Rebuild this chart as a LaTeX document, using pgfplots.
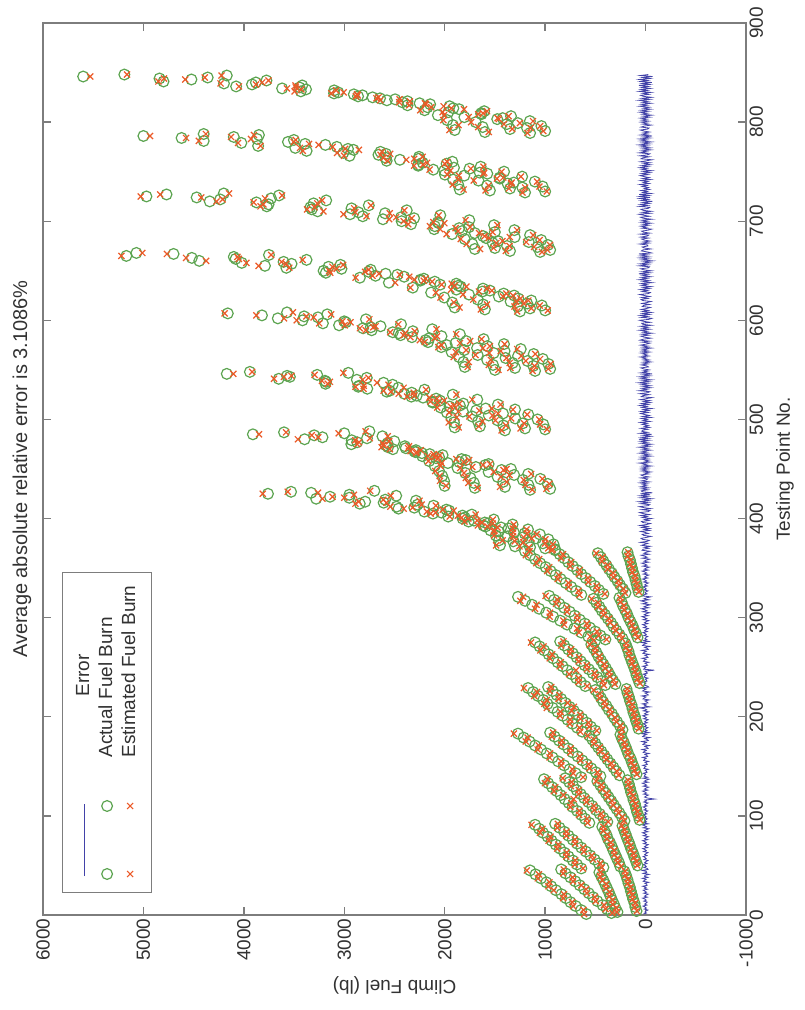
\documentclass[border=0pt]{standalone}
\usepackage{fontspec}
\setmainfont{Liberation Sans}
\usepackage{pgfplots}
\pgfplotsset{compat=1.18}
\usepackage{pgfplotstable}

\definecolor{actgreen}{RGB}{92,164,80}
\definecolor{estred}{RGB}{236,90,40}
\definecolor{errblue}{RGB}{66,66,168}
\definecolor{framegray}{RGB}{125,125,125}
\definecolor{labelgray}{RGB}{50,50,50}

% legend samples: a long line, and a marker at both ends of the sample
\pgfplotsset{
  long line legend/.style={legend image code/.code={\draw[##1] (0pt,0pt) -- (72pt,0pt);}},
  two marks legend/.style={legend image code/.code={\draw[##1] plot coordinates {(2pt,0pt) (70pt,0pt)};}},
}

% testing point, actual climb fuel, estimated climb fuel, error (lb)
\pgfplotstableread{
n act est err
1 590 612 22
2 340 331 -9
3 280 287 7
4 90 86 -4
5 642 618 -24
6 385 398 13
7 300 292 -8
8 102 107 5
9 695 721 26
10 428 414 -14
11 316 325 9
12 110 104 -6
13 748 731 -17
14 480 497 17
15 334 328 -6
16 124 130 6
17 792 821 29
18 522 505 -17
19 350 361 11
20 135 131 -4
21 838 812 -26
22 566 584 18
23 366 357 -9
24 146 152 6
25 892 915 23
26 610 592 -18
27 384 395 11
28 156 151 -5
29 940 968 28
30 656 640 -16
31 402 391 -11
32 170 177 7
33 988 957 -31
34 700 723 23
35 420 430 10
36 181 176 -5
37 1042 1073 31
38 748 726 -22
39 441 452 11
40 194 200 6
41 1096 1062 -34
42 796 820 24
43 460 448 -12
44 210 204 -6
45 1150 1183 33
46 840 815 -25
47 640 623 -17
48 420 436 16
49 252 245 -7
50 80 84 4
51 683 705 22
52 465 451 -14
53 266 274 8
54 95 91 -4
55 724 700 -24
56 507 522 15
57 285 279 -6
58 110 115 5
59 767 790 23
60 550 536 -14
61 302 311 9
62 124 119 -5
63 810 786 -24
64 594 614 20
65 320 313 -7
66 141 147 6
67 852 880 28
68 640 621 -19
69 336 346 10
70 155 150 -5
71 894 868 -26
72 682 701 19
73 354 346 -8
74 170 176 6
75 936 965 29
76 725 704 -21
77 376 387 11
78 186 181 -5
79 975 947 -28
80 768 790 22
81 390 380 -10
82 200 206 6
83 1022 1052 30
84 810 787 -23
85 410 422 12
86 215 209 -6
87 1060 1027 -33
88 856 880 24
89 431 420 -11
90 230 237 7
91 1100 1135 35
92 900 874 -26
93 560 578 18
94 381 372 -9
95 210 216 6
96 60 57 -3
97 602 583 -19
98 420 433 13
99 236 230 -6
100 70 74 4
101 640 662 22
102 456 443 -13
103 261 268 7
104 85 81 -4
105 681 659 -22
106 495 511 16
107 289 282 -7
108 95 100 5
109 726 750 24
110 530 514 -16
111 316 325 9
112 105 101 -4
113 764 739 -25
114 570 588 18
115 341 333 -8
116 120 126 6
117 806 716 -90
118 611 592 -19
119 369 379 10
120 130 125 -5
121 846 818 -28
122 646 666 20
123 395 385 -10
124 145 151 6
125 884 913 29
126 686 664 -22
127 424 436 12
128 155 150 -5
129 930 899 -31
130 720 743 23
131 451 440 -11
132 166 172 6
133 970 1002 32
134 760 736 -24
135 480 493 13
136 180 174 -6
137 1011 977 -34
138 800 825 25
139 641 622 -19
140 450 464 14
141 260 267 7
142 90 87 -3
143 696 720 24
144 494 479 -15
145 291 283 -8
146 105 110 5
147 756 730 -26
148 541 558 17
149 320 329 9
150 120 116 -4
151 811 838 27
152 584 566 -18
153 350 340 -10
154 136 141 5
155 870 841 -29
156 630 650 20
157 381 392 11
158 150 145 -5
159 926 956 30
160 676 655 -21
161 410 398 -12
162 170 176 6
163 984 951 -33
164 726 749 23
165 440 453 13
166 185 179 -6
167 1041 1075 34
168 770 745 -25
169 471 457 -14
170 200 207 7
171 1100 1064 -36
172 815 841 26
173 500 515 15
174 216 209 -7
175 1155 1193 38
176 861 833 -28
177 530 514 -16
178 235 243 8
179 1214 1174 -40
180 905 934 29
181 561 578 17
182 250 242 -8
183 1270 1311 41
184 950 920 -30
185 631 650 19
186 500 486 -14
187 230 236 6
188 70 67 -3
189 681 658 -23
190 545 561 16
191 256 249 -7
192 80 84 4
193 730 755 25
194 586 569 -17
195 284 293 9
196 95 91 -4
197 776 750 -26
198 630 649 19
199 311 301 -10
200 105 110 5
201 824 852 28
202 671 650 -21
203 335 346 11
204 120 114 -6
205 876 846 -30
206 714 736 22
207 366 354 -12
208 130 136 6
209 925 983 58
210 756 713 -43
211 390 402 12
212 140 134 -6
213 976 1009 33
214 800 776 -24
215 421 408 -13
216 155 162 7
217 1019 984 -35
218 840 866 26
219 445 459 14
220 166 160 -6
221 1071 1108 37
222 885 858 -27
223 470 455 -15
224 180 187 7
225 1120 1081 -39
226 926 955 29
227 500 516 16
228 190 183 -7
229 1170 1211 41
230 970 939 -31
231 600 582 -18
232 401 415 14
233 300 307 7
234 60 57 -3
235 646 668 22
236 440 425 -15
237 325 317 -8
238 75 79 4
239 690 666 -24
240 481 497 16
241 350 359 9
242 90 86 -4
243 736 761 25
244 525 507 -18
245 371 362 -9
246 100 105 5
247 780 692 -88
248 565 584 19
249 395 405 10
250 115 110 -5
251 826 855 29
252 606 586 -20
253 420 409 -11
254 130 136 6
255 875 844 -31
256 645 667 22
257 445 457 12
258 145 139 -6
259 921 954 33
260 686 662 -24
261 470 457 -13
262 160 167 7
263 965 930 -35
264 725 751 26
265 490 504 14
266 170 163 -7
267 1010 1047 37
268 770 742 -28
269 515 500 -15
270 185 193 8
271 1055 1016 -39
272 810 840 30
273 540 556 16
274 200 192 -8
275 1100 1141 41
276 850 818 -32
277 500 517 17
278 400 388 -12
279 230 236 6
280 80 77 -3
281 571 550 -21
282 450 465 15
283 260 253 -7
284 95 99 4
285 640 664 24
286 501 484 -17
287 290 299 9
288 115 111 -4
289 710 683 -27
290 555 574 19
291 320 310 -10
292 130 135 5
293 781 810 29
294 605 584 -21
295 345 356 11
296 150 145 -5
297 850 818 -32
298 655 678 23
299 375 363 -12
300 170 176 6
301 920 955 35
302 706 681 -25
303 405 418 13
304 185 179 -6
305 990 952 -38
306 755 782 27
307 435 421 -14
308 205 212 7
309 1060 1101 41
310 810 781 -29
311 460 476 16
312 225 218 -7
313 1130 1086 -44
314 860 891 31
315 490 473 -17
316 240 248 8
317 1200 1247 47
318 910 877 -33
319 520 538 18
320 260 252 -8
321 1270 1220 -50
322 960 995 35
323 640 659 19
324 420 406 -14
325 200 206 6
326 70 67 -3
327 691 667 -24
328 465 481 16
329 225 218 -7
330 80 84 4
331 740 766 26
332 505 487 -18
333 255 264 9
334 90 86 -4
335 795 767 -28
336 550 570 20
337 280 270 -10
338 100 105 5
339 845 875 30
340 595 573 -22
341 310 321 11
342 110 105 -5
343 895 863 -32
344 640 663 23
345 335 323 -12
346 125 131 6
347 945 979 34
348 680 655 -25
349 365 378 13
350 135 129 -6
351 995 959 -36
352 725 752 27
353 390 376 -14
354 145 152 7
355 1050 1088 38
356 770 741 -29
357 420 435 15
358 155 148 -7
359 1100 1060 -40
360 810 841 31
361 445 429 -16
362 170 178 8
363 1150 1192 42
364 855 822 -33
365 475 492 17
366 180 172 -8
367 1200 1156 -44
368 900 935 35
369 900 925 25
370 1000 969 -31
371 1150 1162 12
372 1300 1256 -44
373 1450 1488 38
374 916 923 7
375 1022 1000 -22
376 1167 1218 51
377 1318 1303 -15
378 1460 1424 -36
379 968 997 29
380 1091 1135 44
381 1222 1213 -9
382 1374 1321 -53
383 1491 1509 18
384 1052 1085 33
385 1204 1177 -27
386 1311 1317 6
387 1465 1512 47
388 1543 1504 -39
389 1171 1185 14
390 1364 1322 -42
391 1438 1474 36
392 1594 1574 -20
393 1615 1670 55
394 1324 1313 -11
395 1571 1523 -48
396 1601 1628 27
397 1762 1802 40
398 1709 1676 -33
399 1511 1520 9
400 1822 1765 -57
401 1800 1831 31
402 1965 1950 -15
403 1823 1869 46
404 1730 1692 -38
405 2118 2140 22
406 2033 2091 58
407 2203 2177 -26
408 1956 1912 -44
409 1984 2019 35
410 2460 2408 -52
411 2303 2319 16
412 2480 2541 61
413 2111 2088 -23
414 2271 2230 -41
415 2846 2889 43
416 2608 2580 -28
417 2792 2857 65
418 2286 2250 -36
419 2593 2612 19
420 3280 3218 -62
421 2951 3000 49
422 3142 3117 -25
423 2483 2537 54
424 2950 2904 -46
425 3760 3812 52
426 3330 3262 -68
427 3530 3563 33
428 2700 2742 42
429 1150 1128 -22
430 950 987 37
431 1700 1672 -28
432 1400 1449 49
433 2000 1987 -13
434 1167 1196 29
435 974 957 -17
436 1710 1764 54
437 1418 1382 -36
438 2006 2047 41
439 1221 1213 -8
440 1048 1027 -21
441 1743 1790 47
442 1473 1440 -33
443 2025 2050 25
444 1309 1355 46
445 1169 1139 -30
446 1796 1808 12
447 1563 1512 -51
448 2056 2094 38
449 1434 1415 -19
450 1341 1384 43
451 1872 1846 -26
452 1690 1725 35
453 2099 2042 -57
454 1595 1619 24
455 1563 1548 -15
456 1969 2031 62
457 1855 1811 -44
458 2155 2163 8
459 1791 1757 -34
460 1832 1885 53
461 2087 2066 -21
462 2056 2101 45
463 2224 2169 -55
464 2021 2048 27
465 2149 2111 -38
466 2227 2286 59
467 2291 2277 -14
468 2304 2340 36
469 2287 2238 -49
470 2516 2546 30
471 2388 2365 -23
472 2564 2628 64
473 2397 2356 -41
474 2588 2609 21
475 2930 2872 -58
476 2570 2616 46
477 2872 2854 -18
478 2502 2553 51
479 2926 2891 -35
480 3395 3462 67
481 2774 2745 -29
482 3217 3259 42
483 2620 2567 -53
484 3300 3324 24
485 3910 3849 -61
486 3000 3056 56
487 3600 3580 -20
488 2750 2787 37
489 1400 1433 33
490 1000 981 -19
491 1200 1244 44
492 1900 1862 -38
493 1650 1661 11
494 1417 1390 -27
495 1018 1050 32
496 1224 1209 -15
497 1908 1960 52
498 1668 1625 -43
499 1472 1495 23
500 1075 1059 -16
501 1298 1338 40
502 1935 1881 -54
503 1726 1755 29
504 1561 1524 -37
505 1168 1178 10
506 1420 1468 48
507 1978 1954 -24
508 1819 1864 45
509 1686 1655 -31
510 1300 1321 21
511 1592 1532 -60
512 2040 2074 34
513 1952 1939 -13
514 1849 1906 57
515 1470 1444 -26
516 1815 1854 39
517 2119 2072 -47
518 2124 2142 18
519 2047 2006 -41
520 1676 1726 50
521 2085 2077 -8
522 2216 2153 -63
523 2332 2375 43
524 2279 2305 26
525 1919 1884 -35
526 2403 2458 55
527 2329 2309 -20
528 2577 2535 -42
529 2548 2609 61
530 2201 2186 -15
531 2771 2808 37
532 2461 2409 -52
533 2861 2889 28
534 2852 2806 -46
535 2519 2560 41
536 3187 3165 -22
537 2609 2675 66
538 3182 3143 -39
539 3192 3223 31
540 2875 2818 -57
541 3653 3700 47
542 2776 2759 -17
543 3542 3601 59
544 3570 3526 -44
545 3270 3296 26
546 4170 4105 -65
547 2960 3009 49
548 3940 3918 -22
549 1100 1124 24
550 1500 1465 -35
551 950 969 19
552 1300 1346 46
553 1800 1771 -29
554 1118 1106 -12
555 1519 1560 41
556 968 944 -24
557 1323 1353 30
558 1814 1760 -54
559 1176 1192 16
560 1577 1540 -37
561 1023 1050 27
562 1394 1385 -9
563 1858 1911 53
564 1270 1238 -32
565 1672 1694 22
566 1114 1099 -15
567 1512 1556 44
568 1931 1890 -41
569 1404 1442 38
570 1806 1787 -19
571 1243 1278 35
572 1678 1620 -58
573 2034 2063 29
574 1576 1550 -26
575 1980 2030 50
576 1410 1403 -7
577 1892 1848 -44
578 2166 2199 33
579 1785 1747 -38
580 2191 2247 56
581 1612 1633 21
582 2152 2100 -52
583 2327 2341 14
584 2032 2077 45
585 2440 2410 -30
586 1849 1886 37
587 2458 2395 -63
588 2517 2543 26
589 2317 2299 -18
590 2727 2786 59
591 2124 2081 -43
592 2813 2845 32
593 2736 2712 -24
594 2639 2688 49
595 3052 2996 -56
596 2435 2462 27
597 3213 3250 37
598 2984 2938 -46
599 3000 3019 19
600 3416 3474 58
601 2784 2751 -33
602 3662 3600 -62
603 3262 3305 43
604 3400 3378 -22
605 3820 3875 55
606 3170 3131 -39
607 4160 4191 31
608 3570 3512 -58
609 1250 1278 28
610 1000 974 -26
611 1600 1641 41
612 1150 1137 -13
613 1900 1853 -47
614 1273 1305 32
615 1033 1054 21
616 1617 1579 -38
617 1178 1213 35
618 1925 1909 -16
619 1344 1290 -54
620 1138 1167 29
621 1671 1715 44
622 1267 1245 -22
623 2005 2042 37
624 1461 1420 -41
625 1309 1319 10
626 1759 1818 59
627 1413 1386 -27
628 2135 2088 -47
629 1626 1659 33
630 1550 1531 -19
631 1884 1936 52
632 1619 1580 -39
633 2318 2342 24
634 1840 1785 -55
635 1863 1901 38
636 2045 2031 -14
637 1885 1930 45
638 2556 2493 -63
639 2099 2125 26
640 2243 2209 -34
641 2241 2302 61
642 2208 2190 -18
643 2845 2887 42
644 2404 2353 -51
645 2689 2719 30
646 2471 2448 -23
647 2588 2655 67
648 3184 3140 -44
649 2758 2793 35
650 3206 3149 -57
651 2737 2756 19
652 3028 3076 48
653 3577 3548 -29
654 3157 3118 -39
655 3790 3853 63
656 3038 3012 -26
657 3525 3579 54
658 4021 3975 -46
659 3604 3625 21
660 4444 4375 -69
661 3376 3414 38
662 4082 4049 -33
663 4518 4576 58
664 4100 4064 -36
665 5170 5219 49
666 3750 3728 -22
667 4700 4766 66
668 5070 5011 -59
669 1050 1031 -19
670 1350 1391 41
671 950 978 28
672 1700 1648 -52
673 1500 1513 13
674 1077 1110 33
675 1379 1355 -24
676 972 951 -21
677 1725 1782 57
678 1522 1486 -36
679 1163 1189 26
680 1469 1425 -44
681 1039 1054 15
682 1801 1840 39
683 1589 1561 -28
684 1303 1352 49
685 1618 1602 -16
686 1150 1119 -31
687 1927 1981 54
688 1700 1658 -42
689 1501 1523 22
690 1828 1867 39
691 1306 1280 -26
692 2105 2045 -60
693 1856 1891 35
694 1758 1747 -11
695 2099 2147 48
696 1509 1476 -33
697 2335 2363 28
698 2059 2004 -55
699 2069 2113 44
700 2429 2409 -20
701 1755 1792 37
702 2615 2553 -62
703 2305 2328 23
704 2435 2484 49
705 2816 2778 -38
706 2044 2060 16
707 2943 3008 65
708 2594 2547 -47
709 2859 2890 31
710 3265 3208 -57
711 2378 2402 24
712 3324 3370 46
713 2928 2901 -27
714 3338 3296 -42
715 3772 3834 62
716 2756 2735 -21
717 3754 3806 52
718 3306 3269 -37
719 3875 3903 28
720 4340 4272 -68
721 3180 3221 41
722 4236 4211 -25
723 3730 3789 59
724 4470 4424 -46
725 4970 5027 57
726 3650 3619 -31
727 4770 4833 63
728 4200 4147 -53
729 1200 1226 26
730 1000 983 -17
731 1550 1593 43
732 1850 1812 -38
733 1350 1361 11
734 1227 1199 -28
735 1025 1057 32
736 1578 1563 -15
737 1866 1921 55
738 1374 1340 -34
739 1313 1334 21
740 1102 1080 -22
741 1664 1711 47
742 1916 1865 -51
743 1451 1480 29
744 1453 1417 -36
745 1229 1241 12
746 1805 1858 53
747 1998 1974 -24
748 1576 1616 40
749 1651 1606 -45
750 1409 1434 25
751 2005 1944 -61
752 2114 2150 36
753 1753 1740 -13
754 1908 1966 58
755 1642 1615 -27
756 2264 2305 41
757 2264 2216 -48
758 1981 2000 19
759 2219 2175 -44
760 1924 1975 51
761 2578 2569 -9
762 2446 2382 -64
763 2259 2304 45
764 2585 2612 27
765 2256 2220 -36
766 2947 3003 56
767 2660 2639 -21
768 2585 2543 -42
769 3009 3071 62
770 2640 2625 -15
771 3375 3413 38
772 2908 2855 -53
773 2963 2992 29
774 3488 3441 -47
775 3074 3116 42
776 3858 3834 -24
777 3188 3255 67
778 3390 3351 -39
779 4025 4058 33
780 3561 3503 -58
781 4400 4448 48
782 3502 3484 -18
783 3869 3929 60
784 4620 4575 -45
785 4100 4127 27
786 5000 4934 -66
787 3850 3900 50
788 4400 4378 -22
789 1150 1177 27
790 1600 1561 -39
791 1000 1018 18
792 1900 1953 53
793 1350 1328 -22
794 1180 1146 -34
795 1622 1667 45
796 1037 1049 12
797 1918 1862 -56
798 1381 1410 29
799 1272 1251 -21
800 1691 1737 46
801 1152 1121 -31
802 1975 2013 38
803 1477 1462 -15
804 1423 1473 50
805 1804 1762 -42
806 1340 1364 24
807 2068 2007 -61
808 1634 1667 33
809 1637 1619 -18
810 1964 2021 57
811 1607 1578 -29
812 2200 2244 44
813 1857 1808 -49
814 1914 1935 21
815 2171 2134 -37
816 1952 2011 59
817 2370 2354 -16
818 2145 2187 42
819 2250 2196 -54
820 2422 2453 31
821 2371 2347 -24
822 2576 2641 65
823 2494 2450 -44
824 2644 2680 36
825 2718 2659 -59
826 2863 2884 21
827 2819 2867 48
828 2905 2872 -33
829 3102 3128 26
830 3060 3007 -53
831 3433 3495 62
832 3101 3082 -19
833 3381 3427 46
834 3619 3571 -48
835 3446 3483 37
836 4077 4049 -28
837 3419 3486 67
838 3919 3879 -40
839 4198 4232 34
840 3880 3818 -62
841 4800 4851 51
842 3775 3754 -21
843 4522 4583 61
844 4840 4795 -45
845 4360 4389 29
846 5600 5530 -70
847 4170 4222 52
848 5190 5163 -27
}\fueldata

\begin{document}
\begin{tikzpicture}[rotate=90, transform shape]
\begin{axis}[
  name=ax,
  scale only axis,
  width=892pt, height=703pt,
  xmin=0, xmax=900, ymin=-1000, ymax=6000,
  xtick={0,100,...,900},
  ytick={-1000,0,...,6000},
  tick align=inside,
  xtick pos=both, ytick pos=both,
  major tick length=8pt,
  axis line style={framegray, line width=1.4pt},
  tick style={framegray, line width=1.4pt},
  tick label style={font=\fontsize{19}{19}\selectfont, text=labelgray},
  /pgf/number format/assume math mode=true,
  /pgf/number format/1000 sep={},
  xlabel={Testing Point No.},
  ylabel={Climb Fuel (lb)},
  label style={font=\fontsize{19}{19}\selectfont, text=labelgray},
  xlabel style={at={(axis description cs:0.5,-0.0555)}, anchor=center},
  ylabel style={at={(axis description cs:-0.0785,0.5)}, anchor=center},
  title={Average absolute relative error is 3.1086\%},
  title style={font=\fontsize{20}{20}\selectfont, text=labelgray,
    at={(axis description cs:0.5,1.0213)}, anchor=center},
  legend cell align=left,
  legend style={
    at={(axis description cs:0,1)}, anchor=north west,
    xshift=22pt, yshift=-19pt,
    draw=framegray, line width=1.2pt, fill=white,
    font=\fontsize{19}{19}\selectfont, text=labelgray,
    inner xsep=13pt, inner ysep=13pt,
    row sep=6pt, column sep=43pt,
    nodes={inner sep=0pt, text height=13.5pt, text depth=3.5pt},
  },
]
\addplot[errblue, line width=0.8pt, long line legend]
  table[x=n, y=err] {\fueldata};
\addlegendentry{\hspace*{61pt}Error}
\addplot[only marks, mark=o, mark size=5.4pt, actgreen,
  mark options={line width=1.2pt}, two marks legend]
  table[x=n, y=act] {\fueldata};
\addlegendentry{Actual Fuel Burn}
\addplot[only marks, mark=x, mark size=4.3pt, estred,
  mark options={line width=1.2pt}, two marks legend]
  table[x=n, y=est] {\fueldata};
\addlegendentry{Estimated Fuel Burn}
\end{axis}
\path (ax.south west) ++(-95pt,-58pt) rectangle ++(1010pt,804pt);
\end{tikzpicture}
\end{document}
